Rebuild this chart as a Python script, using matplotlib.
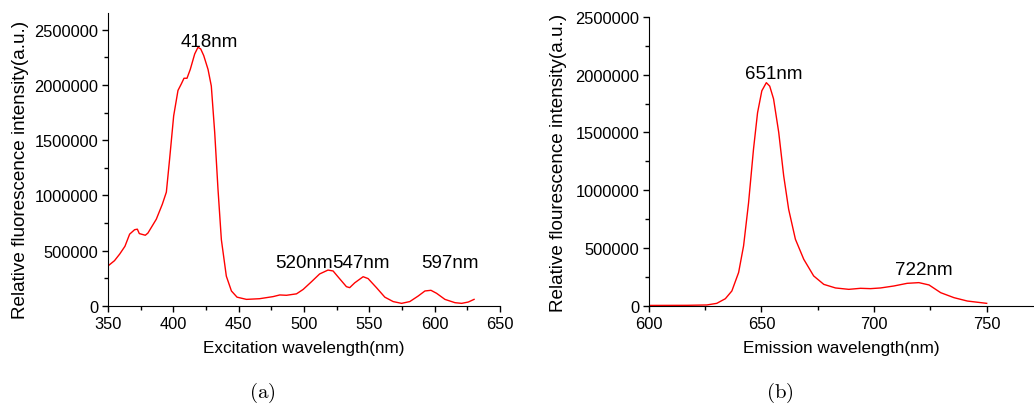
import matplotlib
matplotlib.use("Agg")
from matplotlib import pyplot as plt
from matplotlib.ticker import MultipleLocator, FormatStrFormatter

plt.rcParams['font.family'] = ['Liberation Sans', 'DejaVu Sans']
plt.rcParams['mathtext.fontset'] = 'cm'

# excitation spectrum (a)
ex_wl = [350, 355, 359, 363, 366.6, 370.4, 372.5, 374, 378.6, 380.6, 387, 391.6,
         394.7, 397.2, 400.3, 403.6, 406.2, 408.2, 410.5, 413, 416.4, 418.9, 421,
         423.3, 426.6, 429.1, 431.7, 434.2, 436.8, 440.6, 444.5, 448.8, 456, 466,
         476.4, 481.5, 486.6, 494.3, 499.4, 505.8, 512, 518.4, 522.3, 526, 532.5,
         535, 538.9, 545.3, 549.1, 555.5, 561.9, 568.3, 574.7, 581, 587.4, 592.6,
         597.2, 601.5, 607.9, 615.6, 620.7, 625.8, 630.2]
ex_int = [362000, 410000, 470000, 540000, 650000, 690000, 695000, 655000, 640000,
          660000, 785000, 920000, 1030000, 1330000, 1720000, 1950000, 2010000,
          2060000, 2060000, 2140000, 2280000, 2340000, 2325000, 2265000, 2140000,
          1990000, 1570000, 1060000, 600000, 270000, 136000, 80000, 60000, 66000,
          85000, 100000, 97000, 110000, 150000, 220000, 290000, 325000, 317000,
          265000, 175000, 166000, 210000, 265000, 248000, 166000, 80000, 40000,
          24000, 40000, 90000, 136000, 142000, 115000, 60000, 30000, 24000, 36000,
          60000]
ex_peaks = ["418nm", "520nm", "547nm", "597nm"]
ex_peak_pos = [(427.3, 2349000), (500, 353000), (544, 353000), (611.7, 353000)]

# emission spectrum (b)
em_wl = [600, 617, 625.8, 630.2, 634, 636.9, 639.9, 642.1, 644.3, 646.5, 648.3,
         650.2, 652.2, 653.7, 655.4, 657.7, 659.9, 662.1, 665.1, 668.8, 673.2,
         677.7, 682.9, 688.8, 694, 698.4, 702.9, 708.8, 714.7, 719.9, 724.4, 729.6,
         735.5, 741.4, 750]
em_int = [5000, 6000, 9000, 23000, 63000, 130000, 290000, 520000, 890000, 1355000,
          1670000, 1860000, 1930000, 1900000, 1790000, 1500000, 1125000, 836000,
          577000, 404000, 260000, 187000, 156000, 144000, 153000, 150000, 156000,
          173000, 196000, 202000, 182000, 115000, 72000, 43000, 23000]
em_peaks = ["651nm", "722nm"]
em_peak_pos = [(655.7, 1970000), (722.3, 276500)]


def style_axes(ax, xmaj, ymaj):
    ax.spines['top'].set_visible(False)
    ax.spines['right'].set_visible(False)
    ax.xaxis.set_major_locator(MultipleLocator(xmaj))
    ax.xaxis.set_minor_locator(MultipleLocator(xmaj / 2))
    ax.yaxis.set_major_locator(MultipleLocator(ymaj))
    ax.yaxis.set_minor_locator(MultipleLocator(ymaj / 2))
    ax.yaxis.set_major_formatter(FormatStrFormatter('%d'))
    ax.tick_params(which='major', direction='out', length=4, width=1, labelsize=11.8, pad=3)
    ax.tick_params(which='minor', direction='out', length=3, width=1)


fig = plt.figure(figsize=(10.34, 4.10), dpi=100)
ax1 = fig.add_axes([0.1044, 0.2512, 0.3791, 0.7146])
ax2 = fig.add_axes([0.6274, 0.2512, 0.3726, 0.7056])

ax1.plot(ex_wl, ex_int, color='red', lw=1)
ax1.set_xlim(350, 650)
ax1.set_ylim(0, 2650000)
style_axes(ax1, 50, 500000)
ax1.set_xlabel('Excitation wavelength(nm)', fontsize=12.3, labelpad=7)
ax1.set_ylabel('Relative fluorescence intensity(a.u.)', fontsize=13.6)
ax1.yaxis.set_label_coords(-0.2015, 0.4676)
for label, (x, y) in zip(ex_peaks, ex_peak_pos):
    ax1.text(x, y, label, fontsize=13.5, ha='center', va='baseline')

ax2.plot(em_wl, em_int, color='red', lw=1)
ax2.set_xlim(600, 771)
ax2.set_ylim(0, 2500000)
style_axes(ax2, 50, 500000)
ax2.set_xlabel('Emission wavelength(nm)', fontsize=12.3, labelpad=7)
ax2.set_ylabel('Relative flourescence intensity(a.u.)', fontsize=13.6)
ax2.yaxis.set_label_coords(-0.213, 0.498)
for label, (x, y) in zip(em_peaks, em_peak_pos):
    ax2.text(x, y, label, fontsize=13.5, ha='center', va='baseline')

fig.text(262 / 1034, 1 - 393 / 410, r'$\mathrm{(a)}$', fontsize=15, ha='center', va='center')
fig.text(780 / 1034, 1 - 393 / 410, r'$\mathrm{(b)}$', fontsize=15, ha='center', va='center')

plt.savefig('out.png', dpi=100)
